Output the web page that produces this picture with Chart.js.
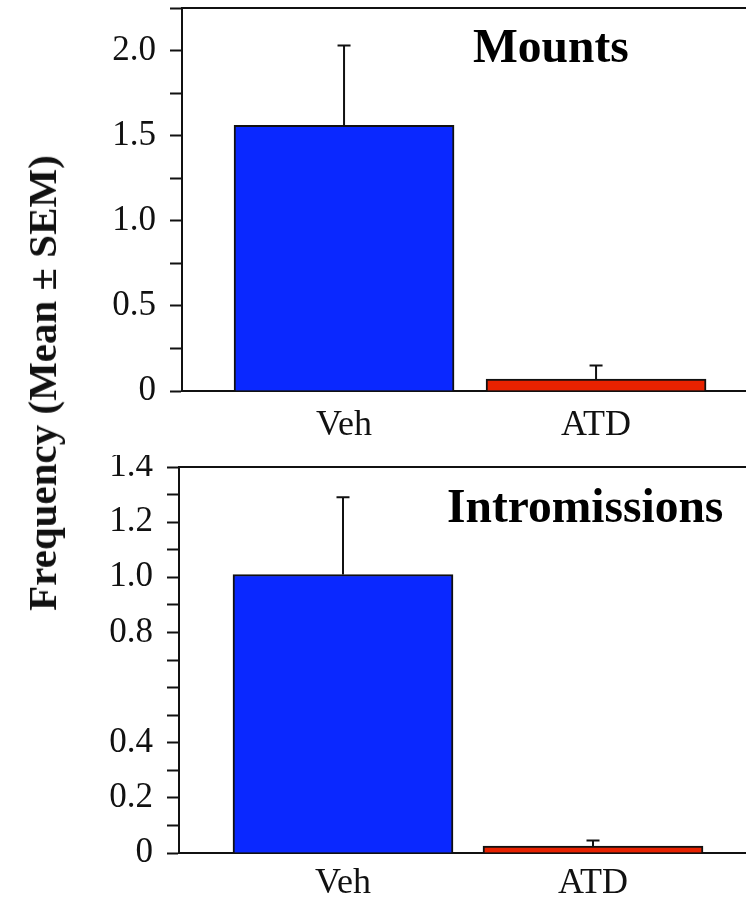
<!DOCTYPE html>
<html>
<head>
<meta charset="utf-8">
<script src="https://cdn.jsdelivr.net/npm/chart.js@4.4.1/dist/chart.umd.min.js"></script>
<style>
  html, body { margin: 0; padding: 0; background: #fff; }
  #wrap { position: relative; width: 746px; height: 898px; overflow: hidden; }
  .panel { position: absolute; left: 0; width: 746px; }
  #top { top: 0; height: 455px; }
  #bottom { top: 455px; height: 443px; }
  #ytitle {
    position: absolute; left: 42px; top: 383px;
    transform: translate(-50%, -50%) rotate(-90deg);
    font: bold 41px "Liberation Serif", "Times New Roman", serif;
    color: #111; white-space: nowrap;
  }
</style>
</head>
<body>
<div id="wrap">
  <div class="panel" id="top"><canvas id="c1"></canvas></div>
  <div class="panel" id="bottom"><canvas id="c2"></canvas></div>
  <div id="ytitle">Frequency (Mean ± SEM)</div>
</div>
<script>
// Treatment groups
const categories = ['Veh', 'ATD'];
const barColors = ['#0a28ff', '#e82200'];

// Mounts: group means and SEM
const mountsMean = [1.56, 0.07];
const mountsSem = [0.47, 0.08];

// Intromissions: group means and SEM
const intromMean = [1.01, 0.025];
const intromSem = [0.28, 0.02];

// Labelled y ticks for each panel
const mountsTickLabels = ['0', '0.5', '1.0', '1.5', '2.0'];
const intromTickLabels = ['0', '0.2', '0.4', '0.8', '1.0', '1.2', '1.4'];

const serif = '"Liberation Serif", "Times New Roman", serif';
const ink = '#111';

// Upward-only error bars with a short cap
const errorBars = {
  id: 'errorBars',
  afterDatasetsDraw(chart, args, opts) {
    const { ctx, scales: { x, y } } = chart;
    ctx.save();
    ctx.strokeStyle = ink;
    ctx.lineWidth = 2;
    opts.means.forEach((m, i) => {
      const px = x.getPixelForValue(i + 1);
      const y0 = y.getPixelForValue(m);
      const y1 = y.getPixelForValue(m + opts.sem[i]);
      ctx.beginPath();
      ctx.moveTo(px, y0);
      ctx.lineTo(px, y1);
      ctx.moveTo(px - 6.5, y1);
      ctx.lineTo(px + 6.5, y1);
      ctx.stroke();
    });
    ctx.restore();
  }
};

// Top frame line and in-panel heading
const panelDecor = {
  id: 'panelDecor',
  afterDraw(chart, args, opts) {
    const { ctx, chartArea: a } = chart;
    ctx.save();
    ctx.strokeStyle = ink;
    ctx.lineWidth = 2;
    ctx.beginPath();
    ctx.moveTo(a.left, a.top);
    ctx.lineTo(a.right, a.top);
    ctx.stroke();
    ctx.fillStyle = '#000';
    ctx.font = 'bold 47.5px ' + serif;
    ctx.textAlign = 'left';
    ctx.textBaseline = 'alphabetic';
    ctx.fillText(opts.text, a.left + opts.dx, a.top + opts.dy);
    ctx.restore();
  }
};

function makePanel(canvasId, means, sem, cfg) {
  const data = categories.map((c, i) => ({ x: i + 1, y: means[i] }));
  const fmt = v => (Math.abs(v) < 1e-9 ? '0' : v.toFixed(1));
  return new Chart(document.getElementById(canvasId), {
    type: 'bar',
    data: {
      datasets: [{
        data,
        backgroundColor: barColors,
        borderColor: ink,
        borderWidth: 2,
        barThickness: 220
      }]
    },
    options: {
      responsive: true,
      maintainAspectRatio: false,
      animation: false,
      layout: { padding: { top: cfg.padTop, left: 0, right: 0, bottom: 0 } },
      plugins: {
        legend: { display: false },
        tooltip: { enabled: false },
        errorBars: { means, sem },
        panelDecor: { text: cfg.title, dx: cfg.titleDx, dy: cfg.titleDy }
      },
      scales: {
        x: {
          type: 'linear',
          offset: false,
          min: cfg.xMin,
          max: cfg.xMax,
          afterBuildTicks(scale) {
            scale.ticks = categories.map((c, i) => ({ value: i + 1 }));
          },
          afterFit(scale) {
            scale.height = cfg.xHeight;
            scale.paddingLeft = 0;
            scale.paddingRight = 0;
          },
          grid: { display: false, drawTicks: false },
          border: { display: true, color: ink, width: 2 },
          ticks: {
            autoSkip: false,
            maxRotation: 0,
            padding: cfg.xPad,
            color: ink,
            font: { family: serif, size: 36 },
            callback: (v, i) => categories[i]
          }
        },
        y: {
          min: 0,
          max: cfg.yMax,
          afterFit(scale) {
            scale.width = cfg.yWidth;
            scale.paddingTop = 0;
            scale.paddingBottom = 0;
          },
          grid: {
            drawOnChartArea: false,
            drawTicks: true,
            tickLength: 12,
            tickWidth: 2,
            tickColor: ink
          },
          border: { display: true, color: ink, width: 2 },
          ticks: {
            stepSize: cfg.step,
            autoSkip: false,
            maxTicksLimit: 30,
            padding: 14,
            color: ink,
            font: { family: serif, size: 35 },
            callback: v => (cfg.labels.includes(fmt(v)) ? fmt(v) : '')
          }
        }
      }
    },
    plugins: [errorBars, panelDecor]
  });
}

makePanel('c1', mountsMean, mountsSem, {
  title: 'Mounts', titleDx: 291, titleDy: 54,
  padTop: 8, xHeight: 64, xPad: 13, yWidth: 182,
  xMin: 0.357, xMax: 2.595,
  yMax: 2.25, step: 0.25,
  labels: mountsTickLabels
});

makePanel('c2', intromMean, intromSem, {
  title: 'Intromissions', titleDx: 268, titleDy: 55,
  padTop: 12, xHeight: 45, xPad: 9, yWidth: 179,
  xMin: 0.344, xMax: 2.612,
  yMax: 1.4, step: 0.1,
  labels: intromTickLabels
});
</script>
</body>
</html>
